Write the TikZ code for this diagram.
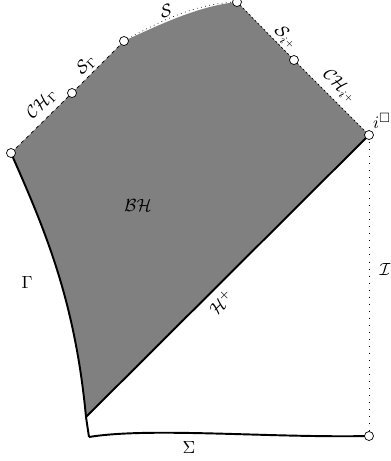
\documentclass[tikz,border=0pt]{standalone}
\usepackage{amsmath}
\usepackage{amssymb}
\usepackage{tikz}
\usepackage{xcolor}
\usetikzlibrary{positioning}
\definecolor{bhgrey}{RGB}{128,128,128}
\tikzset{
    boundary/.style={
        line width=1.1pt,
        line join=round
    },
    cauchyline/.style={
        dash pattern=on 2pt off 2pt
    },
    fineline/.style={
        dash pattern=on 1.2pt off 1.2pt
    },
    sing/.style={
        dotted
    },
    scri/.style={
        dash pattern=on 0.5pt off 3.5pt
    },
    endpt/.style={
        circle,
        draw,
        fill=white,
        inner sep=0pt,
        minimum size=1.8mm
    },
    lbl/.style={
        font=\normalsize,
        inner sep=0pt
    }
}

\begin{document}
\begin{tikzpicture}[x=0.02cm,y=-0.02cm]

% Frame
\useasboundingbox (0,0) rectangle (390,461);

% Corner points
\coordinate (gtop) at (11,153);
\coordinate (chg) at (72,93);
\coordinate (sg) at (124,41);
\coordinate (stop) at (237,2);
\coordinate (sip) at (294,60);
\coordinate (iplus) at (369,135);
\coordinate (hbot) at (86,417);
\coordinate (sigl) at (89,437);
\coordinate (sigr) at (369,436);

% Black hole region
\fill[bhgrey] (gtop) .. controls (45,230) and (75,300) .. (hbot) -- (iplus)
    -- (sip) -- (stop) .. controls (200,6) and (165,22) .. (sg) -- (chg) -- cycle;

% Gamma and horizon
\draw[boundary] (gtop) .. controls (45,230) and (75,300) .. (hbot) -- (sigl);
\draw[boundary] (hbot) -- (iplus);

% Sigma
\draw[boundary] (sigl) .. controls (150,427) and (270,438) .. (sigr);

% Null infinity
\draw[scri] (iplus) -- (sigr);

% Future boundary
\draw[cauchyline] (gtop) -- (chg);
\draw[cauchyline] (chg) -- (sg);
\draw[sing] (sg) .. controls (165,18) and (200,3) .. (stop);
\draw[fineline] (stop) -- (sip);
\draw[fineline] (sip) -- (iplus);

% End points
\node[endpt] (ngtop) at (gtop) {};
\node[endpt] (nchg) at (chg) {};
\node[endpt] (nsg) at (sg) {};
\node[endpt] (nstop) at (stop) {};
\node[endpt] (nsip) at (sip) {};
\node[endpt] (niplus) at (iplus) {};
\node[endpt] (nsigr) at (sigr) {};

% Labels
\node[lbl, rotate=45] (lchg) at (42,104) {$\mathcal{CH}_\Gamma$};
\node[lbl, rotate=45] (lsg) at (86,65) {$\mathcal{S}_\Gamma$};
\node[lbl, rotate=18] (ls) at (166,11) {$\mathcal{S}$};
\node[lbl, rotate=-45] (lsip) at (286,38) {$\mathcal{S}_{i^+}$};
\node[lbl, rotate=-45] (lchip) at (340,87) {$\mathcal{CH}_{i^+}$};
\node[lbl] (liplus) at (382,121) {$i^{\square}$};
\node[lbl] (lbh) at (138,205) {$\mathcal{BH}$};
\node[lbl] (lgamma) at (27,282) {$\Gamma$};
\node[lbl, rotate=45] (lhp) at (221,302) {$\mathcal{H}^+$};
\node[lbl] (lscri) at (385,269) {$\mathcal{I}$};
\node[lbl] (lsigma) at (189,447) {$\Sigma$};

\end{tikzpicture}
\end{document}
